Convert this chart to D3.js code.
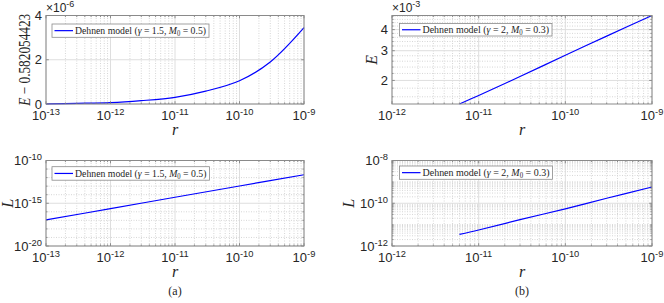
<!DOCTYPE html>
<html>
<head>
<meta charset="utf-8">
<script src="https://cdn.jsdelivr.net/npm/d3@7"></script>
<style>
body { margin: 0; background: #fff; }
text { fill: #262626; }
</style>
</head>
<body>
<svg width="664" height="303"></svg>
<script>
// ---- data ----
// (a) gamma = 1.5, M0 = 0.5
var rA = [1e-13, 3e-13, 1e-12, 3e-12, 1e-11, 3e-11, 1e-10, 3e-10, 1e-9];
var dEA = [0.01, 0.03, 0.06, 0.15, 0.3, 0.58, 1.05, 1.9, 3.45];   // E - 0.582054423, x 1e-6
var rLA = [1e-13, 1e-12, 1e-11, 1e-10, 1e-9];
var LA = [1.12e-17, 2.34e-16, 5.0e-15, 1.05e-13, 2.14e-12];
// (b) gamma = 2, M0 = 0.3
var rB = [6e-12, 1e-11, 3e-11, 1e-10, 3e-10, 1e-9];
var EB = [1.45, 1.63, 2.11, 2.82, 3.66, 4.85];                    // E, x 1e-3
var LB = [3.47e-12, 5.6e-12, 1.7e-11, 5.5e-11, 1.72e-10, 5.75e-10];

var xTicksA = [-13, -12, -11, -10, -9];
var xTicksB = [-12, -11, -10, -9];
var yTicksEA = [0, 2, 4];
var yTicksLA = [-20, -15, -10];
var yTicksEB = [2, 3, 4];
var yTicksLB = [-12, -10, -8];

var svg = d3.select("svg");
var sans = "'Liberation Sans', Arial, sans-serif";
var serif = "'Liberation Serif', 'Times New Roman', serif";

function pow10Label(t, e, size) {
    t.append("tspan").text("10");
    t.append("tspan").attr("dy", -5).attr("font-size", size * 0.72).text(e);
}
function decades(a, b) {
    var out = [];
    for (var e = a; e <= b; e++) out.push(Math.pow(10, e));
    return out;
}
function minorLog(d0, d1) {
    var out = [];
    for (var d = d0; d < d1; d++)
        for (var m = 2; m <= 9; m++) out.push(m * Math.pow(10, d));
    return out;
}

function panel(o) {
    var g = svg.append("g");
    var x = d3.scaleLog().domain(o.xd).range([o.l, o.r]);
    var y = (o.ylog ? d3.scaleLog() : d3.scaleLinear()).domain(o.yd).range([o.b, o.t]);

    var xMinor = minorLog(o.xticks[0], o.xticks[o.xticks.length - 1]);
    var xMajor = o.xticks.map(function(e) { return Math.pow(10, e); });

    g.selectAll(".xmin").data(xMinor).enter().append("line")
        .attr("x1", x).attr("x2", x).attr("y1", o.t).attr("y2", o.b)
        .attr("stroke", "#d6d6d6").attr("stroke-dasharray", "1,1.5");
    g.selectAll(".xmaj").data(xMajor).enter().append("line")
        .attr("x1", x).attr("x2", x).attr("y1", o.t).attr("y2", o.b)
        .attr("stroke", "#dedede");

    g.selectAll(".ymin").data(o.yminor).enter().append("line")
        .attr("y1", y).attr("y2", y).attr("x1", o.l).attr("x2", o.r)
        .attr("stroke", "#d6d6d6").attr("stroke-dasharray", "1,1.5");
    g.selectAll(".ymaj").data(o.yticks).enter().append("line")
        .attr("y1", y).attr("y2", y).attr("x1", o.l).attr("x2", o.r)
        .attr("stroke", "#dedede");

    // curve
    var line = d3.line().x(function(d) { return x(d[0]); }).y(function(d) { return y(d[1]); })
        .curve(d3.curveCatmullRom.alpha(0.5));
    g.append("path").datum(d3.zip(o.xs, o.ys)).attr("d", line)
        .attr("fill", "none").attr("stroke", "#0000ff").attr("stroke-width", 1.2);

    // ticks (inward, on all sides)
    var tk = g.append("g").attr("stroke", "#777").attr("stroke-width", 0.8);
    xMinor.forEach(function(v) {
        tk.append("line").attr("x1", x(v)).attr("x2", x(v)).attr("y1", o.b).attr("y2", o.b - 1.6);
        tk.append("line").attr("x1", x(v)).attr("x2", x(v)).attr("y1", o.t).attr("y2", o.t + 1.6);
    });
    xMajor.forEach(function(v) {
        tk.append("line").attr("x1", x(v)).attr("x2", x(v)).attr("y1", o.b).attr("y2", o.b - 2.8);
        tk.append("line").attr("x1", x(v)).attr("x2", x(v)).attr("y1", o.t).attr("y2", o.t + 2.8);
    });
    o.yminor.forEach(function(v) {
        tk.append("line").attr("y1", y(v)).attr("y2", y(v)).attr("x1", o.l).attr("x2", o.l + 1.6);
        tk.append("line").attr("y1", y(v)).attr("y2", y(v)).attr("x1", o.r).attr("x2", o.r - 1.6);
    });
    o.yticks.forEach(function(v) {
        tk.append("line").attr("y1", y(v)).attr("y2", y(v)).attr("x1", o.l).attr("x2", o.l + 2.8);
        tk.append("line").attr("y1", y(v)).attr("y2", y(v)).attr("x1", o.r).attr("x2", o.r - 2.8);
    });

    // box
    g.append("rect").attr("x", o.l).attr("y", o.t).attr("width", o.r - o.l).attr("height", o.b - o.t)
        .attr("fill", "none").attr("stroke", "#8a8a8a").attr("stroke-width", 1);

    // x tick labels
    o.xticks.forEach(function(e) {
        var t = g.append("text").attr("x", x(Math.pow(10, e))).attr("y", o.b + 16)
            .attr("text-anchor", "middle").style("font", "13px " + sans);
        pow10Label(t, "-" + (-e), 13);
    });
    // y tick labels
    o.yticks.forEach(function(v, i) {
        var t = g.append("text").attr("x", o.l - 4).attr("y", y(v) + 4.5)
            .attr("text-anchor", "end").style("font", "13px " + sans);
        if (o.ypow) pow10Label(t, "-" + (-o.ypow[i]), 13);
        else t.text(o.ylab[i]);
    });
    if (o.mult) {
        var t = g.append("text").attr("x", o.l).attr("y", o.t - 3.5).style("font", "12px " + sans);
        t.append("tspan").text("\u00d710");
        t.append("tspan").attr("dy", -5).attr("font-size", 9).text(o.mult);
    }

    // axis labels
    g.append("text").attr("x", (o.l + o.r) / 2).attr("y", o.b + 31)
        .attr("text-anchor", "middle").style("font", "italic 16px " + serif).text("r");
    var yl = g.append("text").attr("transform", "translate(" + o.ylx + "," + (o.t + o.b) / 2 + ") rotate(-90)")
        .attr("text-anchor", "middle").style("font", "16px " + serif);
    yl.append("tspan").attr("font-style", "italic").text(o.ylabel);
    if (o.ylabelRest) {
        yl.append("tspan").text(o.ylabelRest);
        yl.attr("textLength", 92).attr("lengthAdjust", "spacingAndGlyphs");
    }
    if (o.sub) {
        g.append("text").attr("x", (o.l + o.r) / 2).attr("y", o.b + 49)
            .attr("text-anchor", "middle").style("font", "12px " + serif).text(o.sub);
    }

    // legend
    var lg = o.leg;
    g.append("rect").attr("x", lg.x).attr("y", lg.y).attr("width", lg.w).attr("height", lg.h)
        .attr("fill", "#fff").attr("stroke", "#8a8a8a").attr("stroke-width", 0.8);
    g.append("line").attr("x1", lg.x + 2.5).attr("x2", lg.x + 21).attr("y1", lg.y + lg.h / 2).attr("y2", lg.y + lg.h / 2)
        .attr("stroke", "#0000ff").attr("stroke-width", 1.2);
    var lt = g.append("text").attr("x", lg.x + 23).attr("y", lg.y + lg.h / 2 + 3.6)
        .style("font", "11px " + serif)
        .attr("textLength", lg.w - 26).attr("lengthAdjust", "spacingAndGlyphs");
    lt.append("tspan").text("Dehnen model (");
    lt.append("tspan").attr("font-style", "italic").text("\u03b3");
    lt.append("tspan").text(" = " + o.gamma + ", ");
    lt.append("tspan").attr("font-style", "italic").text("M");
    lt.append("tspan").attr("font-size", 7.5).attr("dy", 2).text("0");
    lt.append("tspan").attr("dy", -2).text(" = " + o.m0 + ")");
}

var e6 = function(v) { return v * 1e-6; };
var e3 = function(v) { return v * 1e-3; };
var p10 = function(e) { return Math.pow(10, e); };

// top-left: E - 0.582054423
panel({
    l: 46, r: 304, t: 15.5, b: 104,
    xd: [1e-13, 1e-9], xticks: xTicksA,
    ylog: false, yd: [0, 4e-6], yticks: yTicksEA.map(e6),
    ylab: yTicksEA.map(String), yminor: [], mult: "-6",
    xs: rA, ys: dEA.map(e6),
    ylabel: "E", ylabelRest: " \u2212 0.582054423", ylx: 30,
    gamma: "1.5", m0: "0.5", leg: {x: 52, y: 24, w: 157, h: 13.3}
});

// top-right: E
panel({
    l: 392, r: 652, t: 15.5, b: 104,
    xd: [1e-12, 1e-9], xticks: xTicksB,
    ylog: true, yd: d3.extent(EB).map(e3),
    yticks: yTicksEB.map(e3), ylab: yTicksEB.map(String),
    yminor: [1.6, 1.8, 2.2, 2.4, 2.6, 2.8, 3.2, 3.4, 3.6, 3.8, 4.2, 4.4, 4.6, 4.8].map(e3),
    mult: "-3",
    xs: rB, ys: EB.map(e3),
    ylabel: "E", ylx: 377,
    gamma: "2", m0: "0.3", leg: {x: 399.5, y: 23.5, w: 152.5, h: 12.5}
});

// bottom-left: L
panel({
    l: 46, r: 304, t: 160.5, b: 246,
    xd: [1e-13, 1e-9], xticks: xTicksA,
    ylog: true, yd: [1e-20, 1e-10],
    yticks: yTicksLA.map(p10), ypow: yTicksLA,
    yminor: decades(-19, -11).filter(function(v) { return Math.abs(Math.log10(v) + 15) > 0.1; }),
    xs: rLA, ys: LA,
    ylabel: "L", ylx: 13, sub: "(a)",
    gamma: "1.5", m0: "0.5", leg: {x: 52, y: 166.7, w: 157.5, h: 13.5}
});

// bottom-right: L
panel({
    l: 392, r: 652, t: 160.5, b: 246,
    xd: [1e-12, 1e-9], xticks: xTicksB,
    ylog: true, yd: [1e-12, 1e-8],
    yticks: yTicksLB.map(p10), ypow: yTicksLB,
    yminor: minorLog(-12, -8).concat([1e-11, 1e-9]),
    xs: rB, ys: LB,
    ylabel: "L", ylx: 354, sub: "(b)",
    gamma: "2", m0: "0.3", leg: {x: 399.5, y: 166, w: 153, h: 13.3}
});
</script>
</body>
</html>
